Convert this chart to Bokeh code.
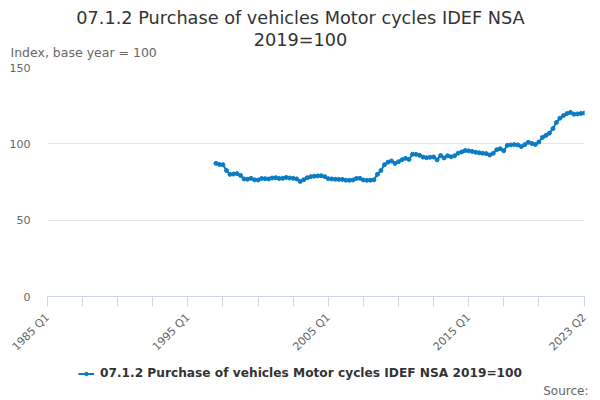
from bokeh.plotting import figure
from bokeh.models import FixedTicker, Legend, LegendItem, Range1d, ColumnDataSource, Label
from bokeh.layouts import column
from bokeh.embed import file_html
from bokeh.resources import INLINE
import math

# ---- data ----
first_year = 1985              # axis starts at 1985 Q1
series_start_year = 1997       # series begins 1997 Q1
series_name = "07.1.2 Purchase of vehicles Motor cycles IDEF NSA 2019=100"
values = [
    87.2, 86.5, 86.3, 82.5,   # 1997
    80.0, 80.2, 80.5, 79.3,   # 1998
    77.0, 76.8, 77.4, 76.4,   # 1999
    76.3, 77.3, 77.2, 77.0,   # 2000
    77.6, 77.8, 77.3, 77.4,   # 2001
    78.0, 77.6, 77.4, 77.0,   # 2002
    75.4, 76.5, 77.8, 78.5,   # 2003
    78.8, 79.0, 79.1, 78.5,   # 2004
    77.2, 77.0, 76.8, 76.7,   # 2005
    76.7, 76.2, 76.1, 76.3,   # 2006
    77.3, 77.4, 76.3, 76.1,   # 2007
    76.2, 76.4, 80.0, 82.5,   # 2008
    86.3, 88.0, 88.8, 87.2,   # 2009
    88.3, 89.6, 90.5, 89.8,   # 2010
    93.2, 93.1, 92.5, 91.3,   # 2011
    90.9, 91.2, 91.4, 89.5,   # 2012
    92.3, 90.8, 92.2, 91.5,   # 2013
    92.2, 93.9, 94.7, 95.6,   # 2014
    95.4, 95.0, 94.5, 94.1,   # 2015
    93.8, 93.6, 92.7, 93.8,   # 2016
    96.2, 96.8, 95.5, 99.0,   # 2017
    99.3, 99.5, 99.3, 98.2,   # 2018
    99.5, 101.0, 100.2, 99.6, # 2019
    101.2, 104.2, 105.5, 107.0,  # 2020
    110.0, 114.0, 116.8, 118.5,  # 2021
    119.8, 120.6, 119.4, 119.6,  # 2022
    119.9, 120.2,             # 2023
]
x_tick_positions = [0, 10, 20, 30, 40, 50, 60, 70, 80, 90, 100, 110, 120, 130, 140, 153]
x_tick_labels = {0: "1985 Q1", 40: "1995 Q1", 80: "2005 Q1", 120: "2015 Q1", 153: "2023 Q2"}
y_ticks = [0, 50, 100, 150]
title_lines = ["07.1.2 Purchase of vehicles Motor cycles IDEF NSA", "2019=100"]
y_title = "Index, base year = 100"
credit = "Source:"

offset = (series_start_year - first_year) * 4
xs = [offset + i for i in range(len(values))]
src = ColumnDataSource(dict(x=xs, y=values))

FONT = "DejaVu Sans"
BLUE = "#0a7cc4"
W = 600
HEAD_H, MAIN_H, FOOT_H = 60, 301, 39


def blank(h):
    f = figure(width=W, height=h, output_backend="svg", toolbar_location=None,
               x_range=Range1d(0, W), y_range=Range1d(0, h),
               x_axis_location=None, y_axis_location=None,
               min_border=0, min_border_left=0, min_border_right=0,
               min_border_top=0, min_border_bottom=0, frame_align=False)
    f.grid.visible = False
    f.outline_line_color = None
    return f


# ---- header: titles ----
head = blank(HEAD_H)
head.add_layout(Label(x=W / 2, y=HEAD_H - 17, text=title_lines[0], text_align="center",
                      text_baseline="middle", text_font=FONT, text_font_size="17.7px",
                      text_color="#333333"))
head.add_layout(Label(x=W / 2, y=HEAD_H - 39, text=title_lines[1], text_align="center",
                      text_baseline="middle", text_font=FONT, text_font_size="17.7px",
                      text_color="#333333"))
head.add_layout(Label(x=10, y=HEAD_H - 52, text=y_title, text_align="left",
                      text_baseline="middle", text_font=FONT, text_font_size="12.5px",
                      text_color="#666666"))

# ---- main chart ----
p = figure(width=W, height=MAIN_H, output_backend="svg", toolbar_location=None,
           x_range=Range1d(0, 153), y_range=Range1d(0, 150), frame_align=False,
           min_border_left=47, min_border_right=16, min_border_top=7, min_border_bottom=64)
p.outline_line_color = None

p.line("x", "y", source=src, line_color=BLUE, line_width=2)
p.scatter("x", "y", source=src, size=4, fill_color=BLUE, line_color=BLUE)

p.yaxis.ticker = FixedTicker(ticks=y_ticks)
p.yaxis.axis_line_color = None
p.yaxis.major_tick_line_color = None
p.yaxis.minor_tick_line_color = None
p.yaxis.major_label_text_color = "#666666"
p.yaxis.major_label_text_font = FONT
p.yaxis.major_label_text_font_size = "11px"
p.yaxis.major_label_standoff = 11
p.ygrid.grid_line_color = "#e6e6e6"
p.ygrid.ticker = FixedTicker(ticks=y_ticks)

p.xgrid.grid_line_color = None
p.xaxis.ticker = FixedTicker(ticks=x_tick_positions)
p.xaxis.major_label_overrides = {k: x_tick_labels.get(k, "") for k in x_tick_positions}
p.xaxis.axis_line_color = "#ccd6eb"
p.xaxis.major_tick_line_color = "#ccd6eb"
p.xaxis.major_tick_out = 10
p.xaxis.major_tick_in = 0
p.xaxis.minor_tick_line_color = None
p.xaxis.major_label_orientation = math.pi / 4
p.xaxis.major_label_standoff = 9
p.xaxis.major_label_text_color = "#666666"
p.xaxis.major_label_text_font = FONT
p.xaxis.major_label_text_font_size = "11px"

# ---- footer: legend + source ----
foot = blank(FOOT_H)
proxy = ColumnDataSource(dict(x=[-50], y=[-50]))   # off-canvas proxy for the legend swatch
lg_line = foot.line("x", "y", source=proxy, line_color=BLUE, line_width=2)
lg_pt = foot.scatter("x", "y", source=proxy, size=3, fill_color=BLUE, line_color=BLUE)
legend = Legend(items=[LegendItem(label=series_name, renderers=[lg_line, lg_pt])],
                location="top_center", orientation="horizontal",
                label_text_font=FONT, label_text_font_size="12.2px",
                label_text_font_style="bold", label_text_color="#333333",
                border_line_color=None, background_fill_alpha=0,
                glyph_width=16, glyph_height=9, label_standoff=6, padding=4, margin=5)
foot.add_layout(legend, "center")
foot.add_layout(Label(x=588, y=10, text=credit, text_align="right", text_baseline="middle",
                      text_font=FONT, text_font_size="12px", text_color="#666666"))

layout = column(head, p, foot, spacing=0)
open("out.html", "w").write(file_html(layout, INLINE))
